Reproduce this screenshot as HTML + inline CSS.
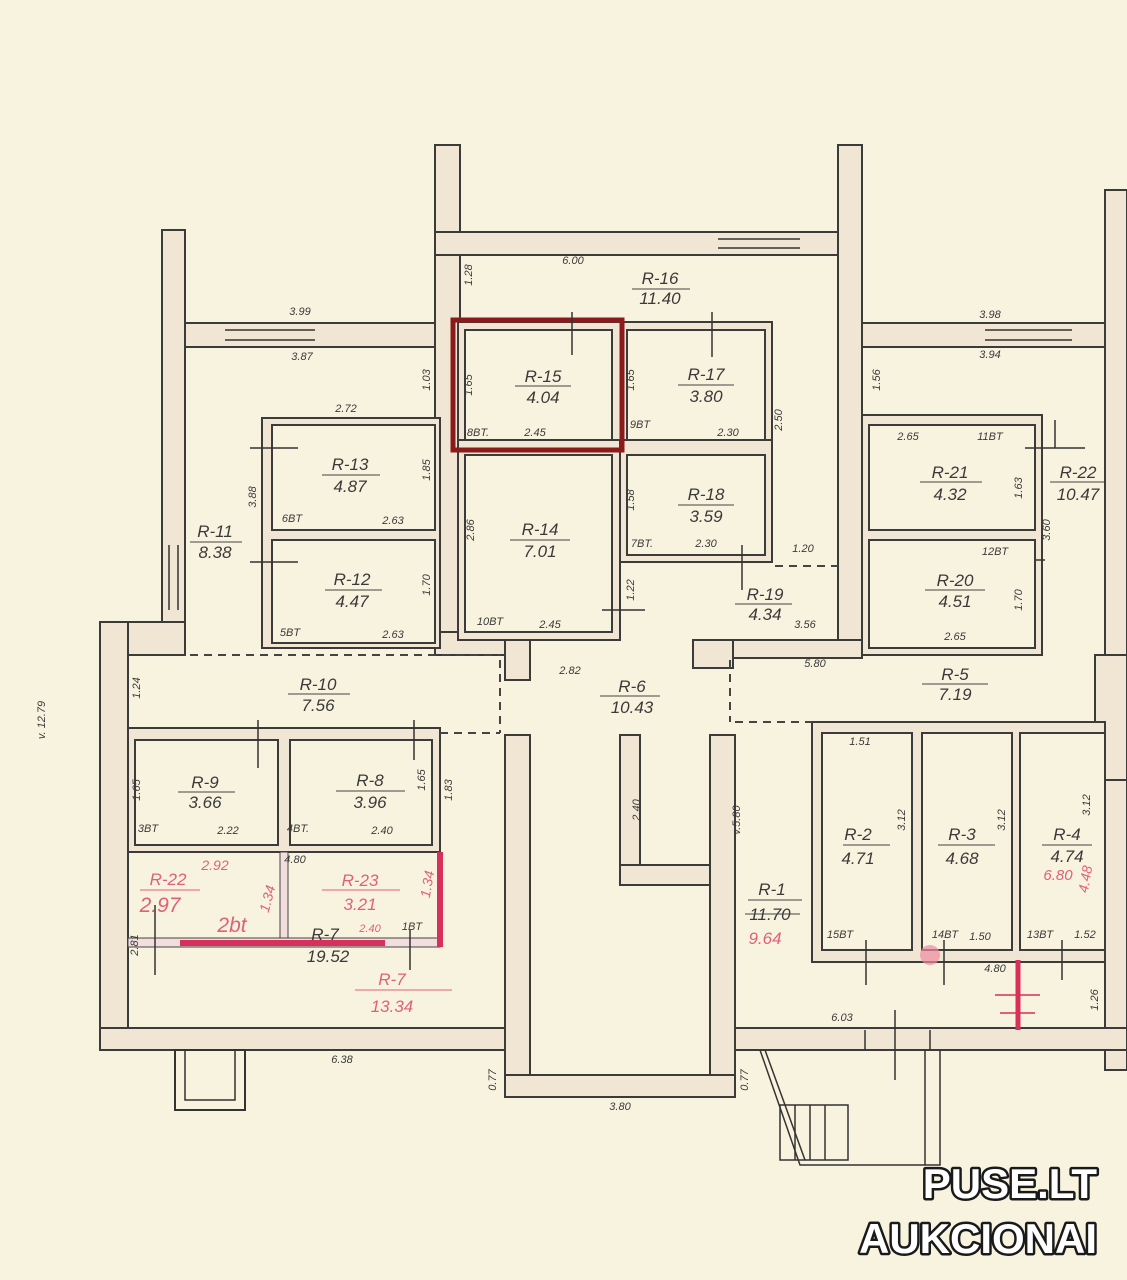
<!DOCTYPE html>
<html><head><meta charset="utf-8"><style>
html,body{margin:0;padding:0;background:#f8f3df;}
svg{display:block}
text{font-family:"Liberation Sans",sans-serif;fill:#3a3a3a;font-style:italic}
.l{font-size:17px;text-anchor:middle}
.d{font-size:11px;text-anchor:middle}
.r{fill:#e0607a}
.w{fill:#f1e6d4;stroke:#3b3b3b;stroke-width:2}
.i{fill:#f8f3df;stroke:#3b3b3b;stroke-width:2}
.ds{stroke:#444;stroke-width:2;stroke-dasharray:8 6;fill:none}
.t{stroke:#333;stroke-width:1.5}
</style></head><body>
<svg width="1127" height="1280" viewBox="0 0 1127 1280" xmlns="http://www.w3.org/2000/svg">
<rect width="1127" height="1280" fill="#f8f3df"/>
<g class="w">
<rect x="162" y="230" width="23" height="425"/>
<rect x="185" y="323" width="250" height="24"/>
<rect x="100" y="622" width="85" height="33"/>
<rect x="100" y="622" width="28" height="428"/>
<rect x="100" y="1028" width="410" height="22"/>
<rect x="435" y="145" width="25" height="495"/>
<rect x="435" y="232" width="427" height="23"/>
<rect x="838" y="145" width="24" height="510"/>
<rect x="862" y="323" width="243" height="24"/>
<rect x="1105" y="190" width="22" height="880"/>
<rect x="435" y="632" width="95" height="23"/>
<rect x="505" y="632" width="25" height="48"/>
<rect x="693" y="640" width="169" height="18"/>
<rect x="693" y="640" width="40" height="28"/>
<rect x="505" y="735" width="25" height="340"/>
<rect x="710" y="735" width="25" height="340"/>
<rect x="505" y="1075" width="230" height="22"/>
<rect x="620" y="735" width="20" height="150"/>
<rect x="620" y="865" width="90" height="20"/>
<rect x="735" y="1028" width="392" height="22"/>
<rect x="1095" y="655" width="32" height="125"/>
</g>
<line x1="530" y1="865" x2="530" y2="1075" stroke="#3b3b3b" stroke-width="2"/>
<g stroke="#333" stroke-width="1.5">
<line x1="225" y1="330" x2="315" y2="330"/><line x1="225" y1="340" x2="315" y2="340"/>
<line x1="718" y1="239" x2="800" y2="239"/><line x1="718" y1="248" x2="800" y2="248"/>
<line x1="985" y1="330" x2="1072" y2="330"/><line x1="985" y1="340" x2="1072" y2="340"/>
<line x1="169" y1="545" x2="169" y2="610"/><line x1="178" y1="545" x2="178" y2="610"/>
</g>
<rect x="175" y="1050" width="70" height="60" fill="none" stroke="#333" stroke-width="2"/>
<rect x="185" y="1050" width="50" height="50" fill="none" stroke="#333" stroke-width="1.5"/>
<g stroke="#333" stroke-width="1.5" fill="none">
<polyline points="760,1050 800,1165 940,1165 940,1050"/>
<line x1="765" y1="1050" x2="805" y2="1160"/>
<rect x="780" y="1105" width="68" height="55"/>
<line x1="795" y1="1105" x2="795" y2="1160"/><line x1="810" y1="1105" x2="810" y2="1160"/><line x1="825" y1="1105" x2="825" y2="1160"/>
<line x1="925" y1="1050" x2="925" y2="1165"/>
<line x1="865" y1="1030" x2="865" y2="1050"/><line x1="930" y1="1030" x2="930" y2="1050"/>
<line x1="895" y1="1010" x2="895" y2="1080"/>
</g>
<rect class="w" x="262" y="418" width="178" height="230"/>
<rect class="i" x="272" y="425" width="163" height="105"/>
<rect class="i" x="272" y="540" width="163" height="103"/>
<rect class="w" x="128" y="728" width="312" height="124"/>
<rect class="i" x="135" y="740" width="143" height="105"/>
<rect class="i" x="290" y="740" width="142" height="105"/>
<rect class="w" x="458" y="322" width="314" height="126"/>
<rect class="w" x="612" y="440" width="160" height="122"/>
<rect class="w" x="458" y="440" width="162" height="200"/>
<rect class="i" x="465" y="330" width="147" height="110"/>
<rect class="i" x="627" y="330" width="138" height="110"/>
<rect class="i" x="627" y="455" width="138" height="100"/>
<rect class="i" x="465" y="455" width="147" height="177"/>
<rect x="453" y="320" width="169" height="130" fill="none" stroke="#8b1a1a" stroke-width="5"/>
<rect class="w" x="862" y="415" width="180" height="240"/>
<rect class="i" x="869" y="425" width="166" height="105"/>
<rect class="i" x="869" y="540" width="166" height="108"/>
<rect class="w" x="812" y="722" width="293" height="240"/>
<rect class="i" x="822" y="733" width="90" height="217"/>
<rect class="i" x="922" y="733" width="90" height="217"/>
<rect class="i" x="1020" y="733" width="85" height="217"/>
<rect x="128" y="938" width="312" height="9" fill="#f3dede" stroke="#444" stroke-width="1"/>
<rect x="280" y="852" width="8" height="86" fill="#f3dede" stroke="#444" stroke-width="1"/>
<line x1="180" y1="943" x2="385" y2="943" stroke="#d8305a" stroke-width="6"/>
<line x1="440" y1="852" x2="440" y2="947" stroke="#d8305a" stroke-width="6"/>
<g stroke="#d8305a" stroke-width="5"><line x1="1018" y1="960" x2="1018" y2="1030"/></g>
<g stroke="#d8305a" stroke-width="1.5"><line x1="995" y1="995" x2="1040" y2="995"/><line x1="1000" y1="1013" x2="1035" y2="1013"/></g>
<circle cx="930" cy="955" r="10" fill="#ee8aa0" opacity="0.7"/>
<path class="ds" d="M190 655 H500 M440 733 H500 M500 660 V733 M775 566 H838 M730 660 V722 M735 722 H812"/>
<g class="t">
<line x1="572" y1="312" x2="572" y2="355"/><line x1="712" y1="312" x2="712" y2="357"/>
<line x1="250" y1="448" x2="298" y2="448"/><line x1="250" y1="562" x2="298" y2="562"/>
<line x1="258" y1="720" x2="258" y2="768"/><line x1="414" y1="720" x2="414" y2="760"/>
<line x1="742" y1="545" x2="742" y2="590"/><line x1="602" y1="610" x2="645" y2="610"/>
<line x1="1055" y1="448" x2="1055" y2="420"/><line x1="1025" y1="448" x2="1085" y2="448"/>
<line x1="1035" y1="560" x2="1045" y2="560"/>
<line x1="866" y1="985" x2="866" y2="940"/><line x1="944" y1="985" x2="944" y2="940"/><line x1="1062" y1="980" x2="1062" y2="940"/>
<line x1="155" y1="905" x2="155" y2="975"/><line x1="410" y1="930" x2="410" y2="970"/>
</g>
<g>
<text class="l" x="660" y="284">R-16</text><line x1="632" y1="289" x2="690" y2="289" stroke="#444"/><text class="l" x="660" y="304">11.40</text>
<text class="l" x="543" y="382">R-15</text><line x1="515" y1="386" x2="571" y2="386" stroke="#444"/><text class="l" x="543" y="403">4.04</text>
<text class="l" x="706" y="380">R-17</text><line x1="678" y1="385" x2="734" y2="385" stroke="#444"/><text class="l" x="706" y="402">3.80</text>
<text class="l" x="706" y="500">R-18</text><line x1="678" y1="505" x2="734" y2="505" stroke="#444"/><text class="l" x="706" y="522">3.59</text>
<text class="l" x="540" y="535">R-14</text><line x1="510" y1="540" x2="570" y2="540" stroke="#444"/><text class="l" x="540" y="557">7.01</text>
<text class="l" x="350" y="470">R-13</text><line x1="322" y1="475" x2="380" y2="475" stroke="#444"/><text class="l" x="350" y="492">4.87</text>
<text class="l" x="352" y="585">R-12</text><line x1="325" y1="590" x2="382" y2="590" stroke="#444"/><text class="l" x="352" y="607">4.47</text>
<text class="l" x="215" y="537">R-11</text><line x1="190" y1="542" x2="242" y2="542" stroke="#444"/><text class="l" x="215" y="558">8.38</text>
<text class="l" x="318" y="690">R-10</text><line x1="288" y1="694" x2="350" y2="694" stroke="#444"/><text class="l" x="318" y="711">7.56</text>
<text class="l" x="205" y="788">R-9</text><line x1="178" y1="792" x2="235" y2="792" stroke="#444"/><text class="l" x="205" y="808">3.66</text>
<text class="l" x="370" y="786">R-8</text><line x1="336" y1="791" x2="405" y2="791" stroke="#444"/><text class="l" x="370" y="808">3.96</text>
<text class="l" x="632" y="692">R-6</text><line x1="600" y1="696" x2="660" y2="696" stroke="#444"/><text class="l" x="632" y="713">10.43</text>
<text class="l" x="765" y="600">R-19</text><line x1="735" y1="604" x2="792" y2="604" stroke="#444"/><text class="l" x="765" y="620">4.34</text>
<text class="l" x="950" y="478">R-21</text><line x1="920" y1="482" x2="982" y2="482" stroke="#444"/><text class="l" x="950" y="500">4.32</text>
<text class="l" x="1078" y="478">R-22</text><line x1="1050" y1="482" x2="1105" y2="482" stroke="#444"/><text class="l" x="1078" y="500">10.47</text>
<text class="l" x="955" y="586">R-20</text><line x1="925" y1="590" x2="985" y2="590" stroke="#444"/><text class="l" x="955" y="607">4.51</text>
<text class="l" x="955" y="680">R-5</text><line x1="922" y1="684" x2="988" y2="684" stroke="#444"/><text class="l" x="955" y="700">7.19</text>
<text class="l" x="858" y="840">R-2</text><line x1="843" y1="845" x2="890" y2="845" stroke="#444"/><text class="l" x="858" y="864">4.71</text>
<text class="l" x="962" y="840">R-3</text><line x1="938" y1="845" x2="995" y2="845" stroke="#444"/><text class="l" x="962" y="864">4.68</text>
<text class="l" x="1067" y="840">R-4</text><line x1="1042" y1="845" x2="1092" y2="845" stroke="#444"/><text class="l" x="1067" y="862">4.74</text>
<text class="d r" x="1058" y="880" style="font-size:15px">6.80</text>
<text class="l" x="772" y="895">R-1</text><line x1="748" y1="900" x2="802" y2="900" stroke="#444"/><text class="l" x="770" y="920">11.70</text><line x1="745" y1="914" x2="800" y2="914" stroke="#444"/>
<text class="l r" x="765" y="944">9.64</text>
<text class="l r" x="168" y="885">R-22</text><line x1="140" y1="890" x2="200" y2="890" stroke="#e0607a"/><text class="l r" x="160" y="912" style="font-size:21px">2.97</text>
<text class="l r" x="215" y="870" style="font-size:14px">2.92</text>
<text class="l r" x="360" y="886">R-23</text><line x1="322" y1="890" x2="400" y2="890" stroke="#e0607a"/><text class="l r" x="360" y="910">3.21</text>
<text class="l r" x="232" y="932" style="font-size:21px">2bt</text>
<text class="l" x="325" y="940">R-7</text><text class="l" x="328" y="962">19.52</text>
<text class="l r" x="392" y="985">R-7</text><line x1="355" y1="990" x2="452" y2="990" stroke="#e0607a"/><text class="l r" x="392" y="1012">13.34</text>
</g>
<g>
<text class="d" x="573" y="264">6.00</text>
<text class="d" x="300" y="315">3.99</text><text class="d" x="302" y="360">3.87</text>
<text class="d" x="990" y="318">3.98</text><text class="d" x="990" y="358">3.94</text>
<text class="d" x="346" y="412">2.72</text><text class="d" x="908" y="440">2.65</text><text class="d" x="990" y="440">11BT</text>
<text class="d" x="535" y="436">2.45</text><text class="d" x="478" y="436">8BT.</text>
<text class="d" x="640" y="428">9BT</text><text class="d" x="728" y="436">2.30</text>
<text class="d" x="292" y="522">6BT</text><text class="d" x="393" y="524">2.63</text>
<text class="d" x="290" y="636">5BT</text><text class="d" x="393" y="638">2.63</text>
<text class="d" x="642" y="547">7BT.</text><text class="d" x="706" y="547">2.30</text>
<text class="d" x="490" y="625">10BT</text><text class="d" x="550" y="628">2.45</text>
<text class="d" x="805" y="628">3.56</text><text class="d" x="803" y="552">1.20</text>
<text class="d" x="570" y="674">2.82</text><text class="d" x="815" y="667">5.80</text>
<text class="d" x="995" y="555">12BT</text><text class="d" x="955" y="640">2.65</text>
<text class="d" x="148" y="832">3BT</text><text class="d" x="228" y="834">2.22</text>
<text class="d" x="298" y="832">4BT.</text><text class="d" x="382" y="834">2.40</text>
<text class="d" x="295" y="863">4.80</text>
<text class="d r" x="370" y="932">2.40</text><text class="d" x="412" y="930">1BT</text>
<text class="d" x="860" y="745">1.51</text>
<text class="d" x="840" y="938">15BT</text><text class="d" x="945" y="938">14BT</text><text class="d" x="980" y="940">1.50</text>
<text class="d" x="1040" y="938">13BT</text><text class="d" x="1085" y="938">1.52</text>
<text class="d" x="995" y="972">4.80</text><text class="d" x="842" y="1021">6.03</text>
<text class="d" x="342" y="1063">6.38</text><text class="d" x="620" y="1110">3.80</text>
</g>
<g font-size="10">
<text class="d" transform="translate(472,275) rotate(-90)">1.28</text>
<text class="d" transform="translate(430,380) rotate(-90)">1.03</text>
<text class="d" transform="translate(472,385) rotate(-90)">1.65</text>
<text class="d" transform="translate(634,380) rotate(-90)">1.65</text>
<text class="d" transform="translate(782,420) rotate(-90)">2.50</text>
<text class="d" transform="translate(634,500) rotate(-90)">1.58</text>
<text class="d" transform="translate(474,530) rotate(-90)">2.86</text>
<text class="d" transform="translate(634,590) rotate(-90)">1.22</text>
<text class="d" transform="translate(256,497) rotate(-90)">3.88</text>
<text class="d" transform="translate(430,470) rotate(-90)">1.85</text>
<text class="d" transform="translate(430,585) rotate(-90)">1.70</text>
<text class="d" transform="translate(880,380) rotate(-90)">1.56</text>
<text class="d" transform="translate(1022,488) rotate(-90)">1.63</text>
<text class="d" transform="translate(1050,530) rotate(-90)">3.60</text>
<text class="d" transform="translate(1022,600) rotate(-90)">1.70</text>
<text class="d" transform="translate(140,688) rotate(-90)">1.24</text>
<text class="d" transform="translate(140,790) rotate(-90)">1.65</text>
<text class="d" transform="translate(425,780) rotate(-90)">1.65</text>
<text class="d" transform="translate(452,790) rotate(-90)">1.83</text>
<text class="d" transform="translate(640,810) rotate(-90)">2.40</text>
<text class="d" transform="translate(740,820) rotate(-90)">v.5.80</text>
<text class="d" transform="translate(905,820) rotate(-90)">3.12</text>
<text class="d" transform="translate(1005,820) rotate(-90)">3.12</text>
<text class="d" transform="translate(1090,805) rotate(-90)">3.12</text>
<text class="d" transform="translate(1098,1000) rotate(-90)">1.26</text>
<text class="d" transform="translate(138,945) rotate(-90)">2.81</text>
<text class="d" transform="translate(496,1080) rotate(-90)">0.77</text>
<text class="d" transform="translate(748,1080) rotate(-90)">0.77</text>
<text class="d" transform="translate(45,720) rotate(-90)">v. 12.79</text>
</g>
<text class="d r" transform="translate(272,900) rotate(-75)" style="font-size:14px">1.34</text>
<text class="d r" transform="translate(432,885) rotate(-80)" style="font-size:14px">1.34</text>
<text class="d r" transform="translate(1090,880) rotate(-80)" style="font-size:14px">4.48</text>
<g font-size="42">
<text x="1097" y="1198" text-anchor="end" style="fill:#fff;font-style:normal;font-weight:bold;stroke:#1a1a1a;stroke-width:5;paint-order:stroke;stroke-linejoin:round">PUSE.LT</text>
<text x="1097" y="1253" text-anchor="end" style="fill:#fff;font-style:normal;font-weight:bold;stroke:#1a1a1a;stroke-width:5;paint-order:stroke;stroke-linejoin:round">AUKCIONAI</text>
</g>
</svg>
</body></html>
